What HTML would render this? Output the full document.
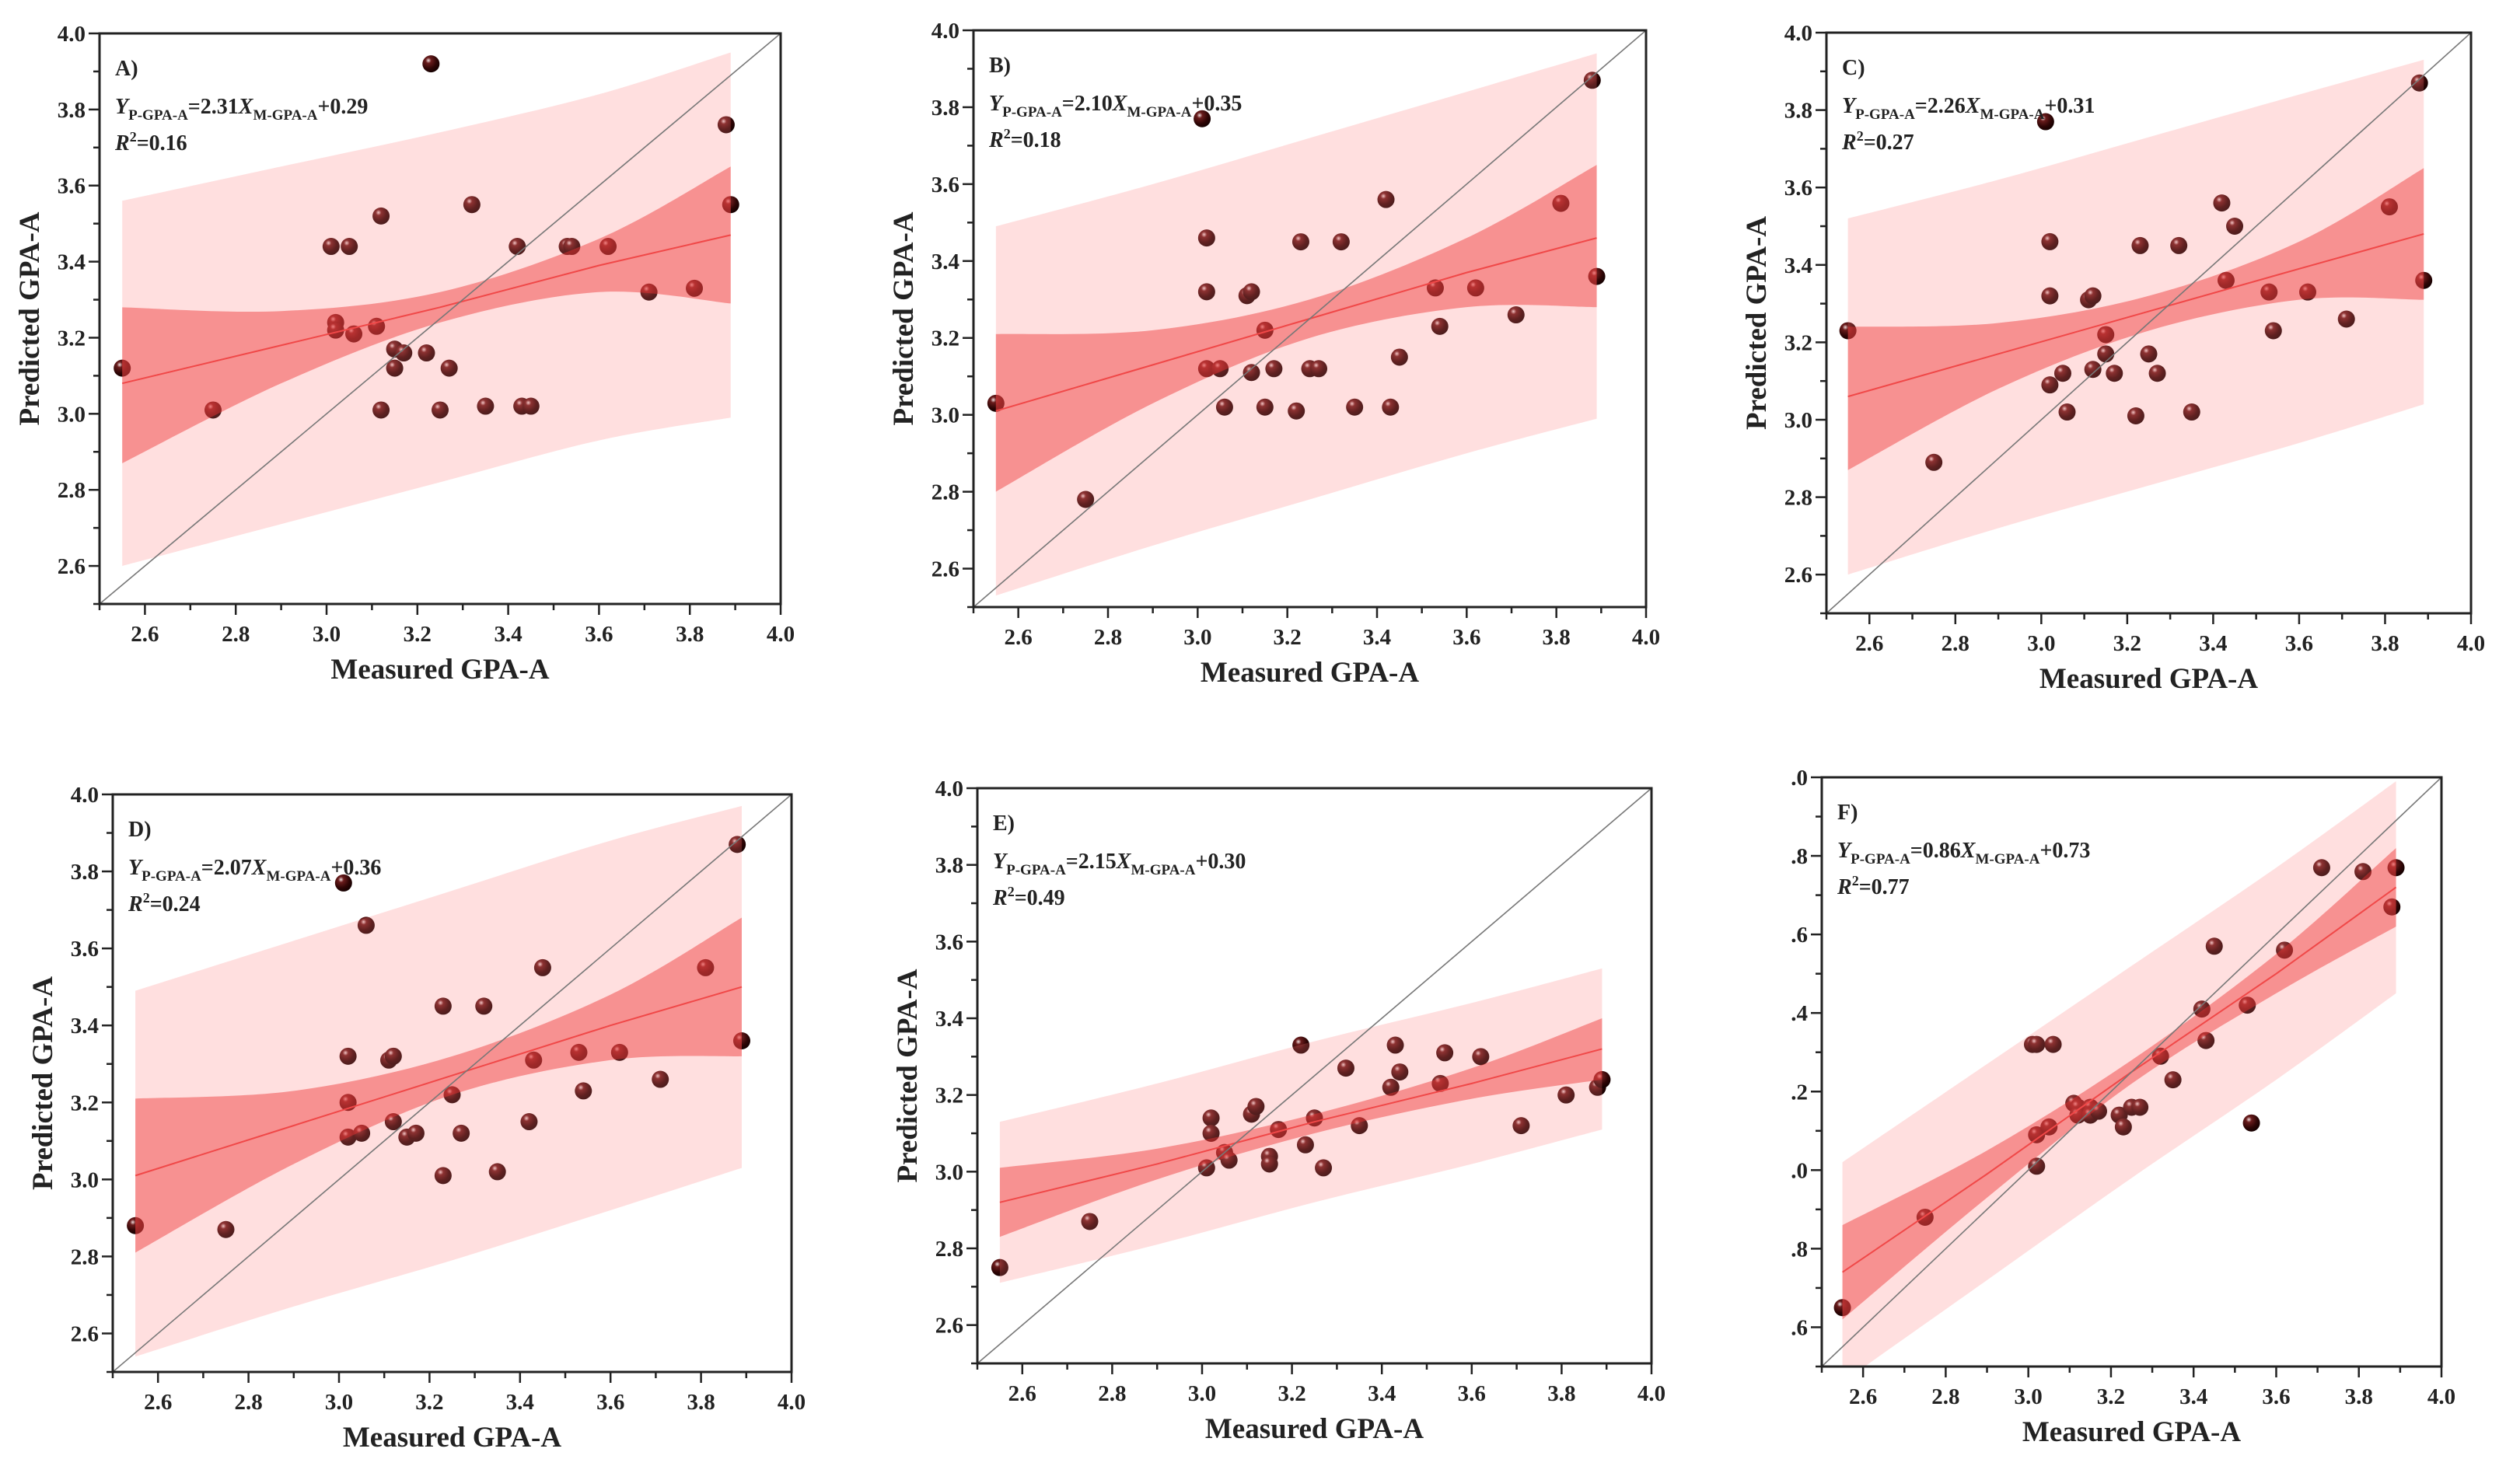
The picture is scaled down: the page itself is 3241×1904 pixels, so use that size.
<!DOCTYPE html>
<html><head><meta charset="utf-8"><style>
html,body{margin:0;padding:0;background:#fff;}
svg{display:block;font-family:"Liberation Serif",serif;}
</style></head><body>
<svg id="fig" width="3241" height="1904" viewBox="0 0 3241 1904" xmlns="http://www.w3.org/2000/svg">
<defs>
<radialGradient id="ball" cx="0.35" cy="0.3" r="0.75">
<stop offset="0" stop-color="#f0dede"/><stop offset="0.22" stop-color="#6a1c1c"/><stop offset="0.65" stop-color="#2e0505"/><stop offset="1" stop-color="#120000"/>
</radialGradient>
</defs>
</svg>
<script>
const NS="http://www.w3.org/2000/svg";
const bandX=[2.55,2.9,3.25,3.6,3.89];
const panelIds=["A","B","C","D","E","F"];
const eqSlope=["2.31","2.10","2.26","2.07","2.15","0.86"];
const eqInter=["0.29","0.35","0.31","0.36","0.30","0.73"];
const r2Vals=["0.16","0.18","0.27","0.24","0.49","0.77"];
const xTicks=["2.6","2.8","3.0","3.2","3.4","3.6","3.8","4.0"];
const xTickVals=[2.6,2.8,3.0,3.2,3.4,3.6,3.8,4.0];
const yTickVals=[2.6,2.8,3.0,3.2,3.4,3.6,3.8,4.0];
const yTicksStd=["2.6","2.8","3.0","3.2","3.4","3.6","3.8","4.0"];
const yTicksF=[".6",".8",".0",".2",".4",".6",".8",".0"];
const fitA=[3.08,3.18,3.28,3.39,3.47],confUA=[3.28,3.27,3.32,3.46,3.65],confLA=[2.87,3.08,3.24,3.32,3.29],predUA=[3.56,3.65,3.74,3.84,3.95],predLA=[2.60,2.71,2.82,2.93,2.99];
const fitB=[3.01,3.13,3.25,3.37,3.46],confUB=[3.21,3.22,3.30,3.46,3.65],confLB=[2.80,3.03,3.20,3.28,3.28],predUB=[3.49,3.60,3.72,3.84,3.94],predLB=[2.53,2.66,2.78,2.90,2.99];
const fitC=[3.06,3.17,3.28,3.39,3.48],confUC=[3.24,3.25,3.32,3.46,3.65],confLC=[2.87,3.08,3.23,3.31,3.31],predUC=[3.52,3.62,3.73,3.84,3.93],predLC=[2.60,2.72,2.83,2.94,3.04];
const fitD=[3.01,3.14,3.27,3.40,3.50],confUD=[3.21,3.23,3.32,3.48,3.68],confLD=[2.81,3.04,3.22,3.31,3.32],predUD=[3.49,3.62,3.75,3.88,3.97],predLD=[2.54,2.67,2.79,2.92,3.03];
const fitE=[2.92,3.02,3.13,3.23,3.32],confUE=[3.01,3.06,3.15,3.27,3.40],confLE=[2.83,2.98,3.10,3.19,3.24],predUE=[3.13,3.23,3.34,3.44,3.53],predLE=[2.71,2.81,2.92,3.02,3.11];
const fitF=[2.74,2.99,3.25,3.50,3.72],confUF=[2.86,3.05,3.28,3.55,3.82],confLF=[2.62,2.93,3.22,3.45,3.62],predUF=[3.02,3.27,3.52,3.77,3.99],predLF=[2.46,2.72,2.98,3.23,3.45];
const mxA=[2.55,2.75,3.01,3.05,3.12,3.23,3.32,3.42,3.53,3.54,3.62,3.71,3.81,3.88,3.89,3.02,3.02,3.06,3.11,3.15,3.17,3.22,3.15,3.27,3.12,3.25,3.35,3.43,3.45];
const pyA=[3.12,3.01,3.44,3.44,3.52,3.92,3.55,3.44,3.44,3.44,3.44,3.32,3.33,3.76,3.55,3.24,3.22,3.21,3.23,3.17,3.16,3.16,3.12,3.12,3.01,3.01,3.02,3.02,3.02];
const mxB=[2.55,2.75,3.01,3.02,3.02,3.02,3.05,3.06,3.11,3.12,3.12,3.15,3.15,3.17,3.22,3.23,3.25,3.27,3.32,3.35,3.42,3.43,3.45,3.53,3.54,3.62,3.71,3.81,3.88,3.89];
const pyB=[3.03,2.78,3.77,3.46,3.32,3.12,3.12,3.02,3.31,3.32,3.11,3.22,3.02,3.12,3.01,3.45,3.12,3.12,3.45,3.02,3.56,3.02,3.15,3.33,3.23,3.33,3.26,3.55,3.87,3.36];
const mxC=[2.55,2.75,3.01,3.02,3.02,3.02,3.05,3.06,3.11,3.12,3.12,3.15,3.15,3.17,3.22,3.23,3.25,3.27,3.32,3.35,3.42,3.43,3.45,3.53,3.54,3.62,3.71,3.81,3.88,3.89];
const pyC=[3.23,2.89,3.77,3.46,3.32,3.09,3.12,3.02,3.31,3.32,3.13,3.22,3.17,3.12,3.01,3.45,3.17,3.12,3.45,3.02,3.56,3.36,3.50,3.33,3.23,3.33,3.26,3.55,3.87,3.36];
const mxD=[2.55,2.75,3.01,3.02,3.02,3.02,3.05,3.06,3.11,3.12,3.12,3.15,3.17,3.23,3.23,3.25,3.27,3.32,3.35,3.42,3.43,3.45,3.53,3.54,3.62,3.71,3.81,3.88,3.89];
const pyD=[2.88,2.87,3.77,3.32,3.20,3.11,3.12,3.66,3.31,3.32,3.15,3.11,3.12,3.01,3.45,3.22,3.12,3.45,3.02,3.15,3.31,3.55,3.33,3.23,3.33,3.26,3.55,3.87,3.36];
const mxE=[2.55,2.75,3.01,3.02,3.02,3.05,3.06,3.11,3.12,3.15,3.15,3.17,3.22,3.23,3.25,3.27,3.32,3.35,3.42,3.43,3.44,3.53,3.54,3.62,3.71,3.81,3.88,3.89];
const pyE=[2.75,2.87,3.01,3.14,3.10,3.05,3.03,3.15,3.17,3.04,3.02,3.11,3.33,3.07,3.14,3.01,3.27,3.12,3.22,3.33,3.26,3.23,3.31,3.30,3.12,3.20,3.22,3.24];
const mxF=[2.55,2.75,3.01,3.02,3.06,3.02,3.02,3.05,3.11,3.12,3.12,3.15,3.15,3.17,3.22,3.23,3.25,3.27,3.32,3.35,3.42,3.43,3.45,3.53,3.54,3.62,3.71,3.81,3.88,3.89];
const pyF=[2.65,2.88,3.32,3.32,3.32,3.09,3.01,3.11,3.17,3.16,3.14,3.16,3.14,3.15,3.14,3.11,3.16,3.16,3.29,3.23,3.41,3.33,3.57,3.42,3.12,3.56,3.77,3.76,3.67,3.77];

const boxes=[[128,43,1004,777],[1252,39,2117,781],[2349,42,3178,789],[145,1022,1018,1765],[1257,1014,2124,1754],[2343,1000,3140,1758]];
const series=[
 [fitA,confUA,confLA,predUA,predLA,mxA,pyA],
 [fitB,confUB,confLB,predUB,predLB,mxB,pyB],
 [fitC,confUC,confLC,predUC,predLC,mxC,pyC],
 [fitD,confUD,confLD,predUD,predLD,mxD,pyD],
 [fitE,confUE,confLE,predUE,predLE,mxE,pyE],
 [fitF,confUF,confLF,predUF,predLF,mxF,pyF]];
const svg=document.getElementById("fig");
function mk(tag,attrs,parent){const e=document.createElementNS(NS,tag);for(const k in attrs)e.setAttribute(k,attrs[k]);(parent||svg).appendChild(e);return e;}
// Catmull-Rom smooth path segment through points (array of [x,y]); starts with L/M handled by caller
function smooth(pts){
 let d="";
 for(let k=0;k<pts.length-1;k++){
  const p0=pts[Math.max(0,k-1)],p1=pts[k],p2=pts[k+1],p3=pts[Math.min(pts.length-1,k+2)];
  const c1=[p1[0]+(p2[0]-p0[0])/6,p1[1]+(p2[1]-p0[1])/6];
  const c2=[p2[0]-(p3[0]-p1[0])/6,p2[1]-(p3[1]-p1[1])/6];
  d+=" C"+c1[0]+","+c1[1]+" "+c2[0]+","+c2[1]+" "+p2[0]+","+p2[1];
 }
 return d;
}

panelIds.forEach((id,i)=>{
 const [L,T,R,B]=boxes[i];
 const [fit,cu,cl,pu,pl,mx,py]=series[i];
 const X=v=>L+(v-2.5)/1.5*(R-L);
 const Y=v=>B-(v-2.5)/1.5*(B-T);
 const g=mk("g",{});
 
 
 const cp=mk("clipPath",{id:"clip"+id},g);
 mk("rect",{x:L,y:T,width:R-L,height:B-T},cp);
 const plot=mk("g",{"clip-path":"url(#clip"+id+")"},g);
 const pts=mk("g",{},plot);
 
 
 mx.forEach((xv,k)=>{
  const c=mk("circle",{cx:X(xv),cy:Y(py[k]),r:11,fill:"url(#ball)"},pts);
  
  
 });
 const bandPath=(up,lo)=>{
  const u=bandX.map((x,k)=>[X(x),Y(up[k])]);
  const l=bandX.map((x,k)=>[X(x),Y(lo[k])]).reverse();
  return "M"+u[0][0]+","+u[0][1]+smooth(u)+" L"+l[0][0]+","+l[0][1]+smooth(l)+" Z";
 };
 const pb=mk("path",{d:bandPath(pu,pl),fill:"rgba(255,120,120,0.24)"},plot);
 
 
 const cb=mk("path",{d:bandPath(cu,cl),fill:"rgba(238,50,50,0.45)"},plot);
 
 
 const fl=mk("polyline",{points:bandX.map((x,k)=>X(x)+","+Y(fit[k])).join(" "),fill:"none",stroke:"#f04848","stroke-width":2},plot);
 
 
 const dl=mk("line",{x1:X(2.5),y1:Y(2.5),x2:X(4),y2:Y(4),stroke:"#777","stroke-width":1.6},plot);
 
 
 const fr=mk("rect",{x:L,y:T,width:R-L,height:B-T,fill:"none",stroke:"#222","stroke-width":3},g);
 
 
 for(let v=2.5;v<=4.001;v+=0.1){
  const major=Math.abs(Math.round(v*10)%2)===0;
  mk("line",{x1:X(v),y1:B,x2:X(v),y2:B+(major?14:8),stroke:"#222","stroke-width":2.5},g);
  mk("line",{x1:L,y1:Y(v),x2:L-(major?14:8),y2:Y(v),stroke:"#222","stroke-width":2.5},g);
 }
 xTickVals.forEach((v,k)=>{
  const t=mk("text",{x:X(v),y:B+48,"text-anchor":"middle","font-size":29,"font-weight":"bold",fill:"#222"},g);
  t.textContent=xTicks[k];
  
  
 });
 const yl=id==="F"?yTicksF:yTicksStd;
 yTickVals.forEach((v,k)=>{
  const t=mk("text",{x:L-18,y:Y(v)+10,"text-anchor":"end","font-size":29,"font-weight":"bold",fill:"#222"},g);
  t.textContent=yl[k];
  
  
 });
 const xt=mk("text",{x:(L+R)/2,y:B+96,"text-anchor":"middle","font-size":37,"font-weight":"bold",fill:"#222"},g);
 xt.textContent="Measured GPA-A";
 
 
 if(id!=="F"){
  const yt=mk("text",{x:L-78,y:(T+B)/2,"text-anchor":"middle","font-size":37,"font-weight":"bold",fill:"#222",transform:"rotate(-90 "+(L-78)+" "+((T+B)/2)+")"},g);
  yt.textContent="Predicted GPA-A";
  
  
 }
 const lab=mk("text",{x:L+20,y:T+54,"font-size":28,"font-weight":"bold",fill:"#222"},g);
 lab.textContent=id+")";
 
 
 const eq=mk("text",{x:L+20,y:T+103,"font-size":28,"font-weight":"bold",fill:"#222"},g);
 
 
 eq.innerHTML='<tspan font-style="italic">Y</tspan><tspan font-size="19" dy="8">P-GPA-A</tspan><tspan dy="-8">='+eqSlope[i]+'</tspan><tspan font-style="italic">X</tspan><tspan font-size="19" dy="8">M-GPA-A</tspan><tspan dy="-8">+'+eqInter[i]+'</tspan>';
 const r2=mk("text",{x:L+20,y:T+150,"font-size":28,"font-weight":"bold",fill:"#222"},g);
 
 
 r2.innerHTML='<tspan font-style="italic">R</tspan><tspan font-size="18" dy="-11">2</tspan><tspan dy="11">='+r2Vals[i]+'</tspan>';
});
</script>
</body></html>
